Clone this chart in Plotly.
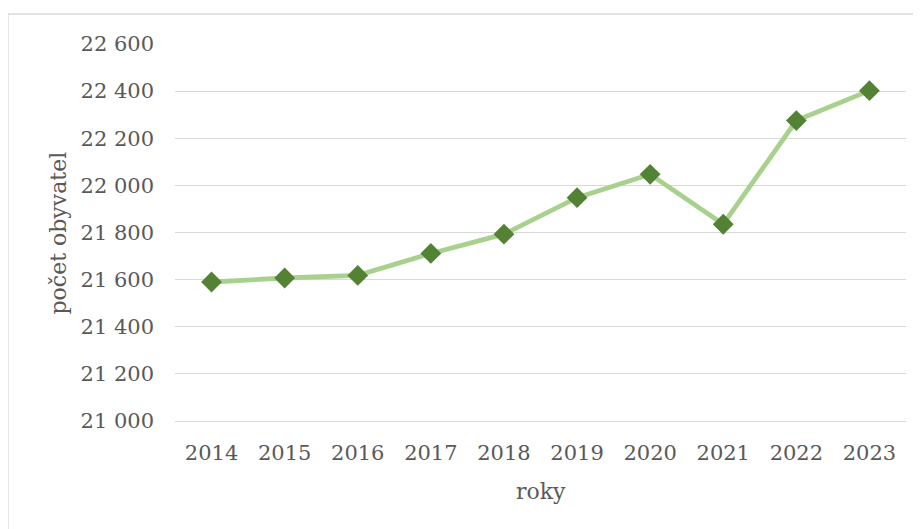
import plotly.graph_objects as go

years = ["2014", "2015", "2016", "2017", "2018", "2019", "2020", "2021", "2022", "2023"]
population = [21590, 21607, 21618, 21711, 21793, 21948, 22047, 21835, 22275, 22402]
y_ticks = [21000, 21200, 21400, 21600, 21800, 22000, 22200, 22400, 22600]
y_title = "počet obyvatel"
x_title = "roky"

FONT = "DejaVu Serif"
TXT = "#595959"
GRID = "#d9d9d9"

# page body has an 8px offset; figure coordinates = screenshot coordinates - 8
fig = go.Figure()
fig.add_trace(go.Scatter(
    x=list(range(len(years))), y=population, mode="lines+markers",
    line=dict(color="#a9d18e", width=4.8),
    marker=dict(symbol="diamond", color="#548235", size=16, line=dict(width=0)),
    showlegend=False, hoverinfo="skip",
))

fig.update_layout(
    width=921, height=529,
    margin=dict(l=167, r=23, t=36, b=116),
    paper_bgcolor="white", plot_bgcolor="white",
    separators=", ",
    font=dict(family=FONT, size=21, color=TXT),
    xaxis=dict(
        range=[-0.5, len(years) - 0.5],
        tickmode="array", tickvals=list(range(len(years))), ticktext=years,
        showgrid=False, zeroline=False,
        showline=True, linecolor=GRID, linewidth=1.3,
        ticks="", ticklabelstandoff=13,
        tickfont=dict(family=FONT, size=21, color=TXT),
    ),
    yaxis=dict(
        range=[y_ticks[0], y_ticks[-1]],
        tickmode="array", tickvals=y_ticks, tickformat=",d",
        showgrid=True, gridcolor=GRID, gridwidth=1.3,
        zeroline=False, showline=False, ticks="",
        ticklabelstandoff=20,
        tickfont=dict(family=FONT, size=21, color=TXT),
    ),
    annotations=[
        dict(text=y_title, xref="paper", yref="paper", x=(58 - 175) / 731, y=0.5,
             textangle=-90, showarrow=False, xanchor="center", yanchor="middle",
             font=dict(family=FONT, size=22, color=TXT)),
        dict(text=x_title, xref="paper", yref="paper", x=0.5, y=(421 - 491) / 377,
             showarrow=False, xanchor="center", yanchor="middle",
             font=dict(family=FONT, size=22, color=TXT)),
    ],
    shapes=[
        dict(type="rect", xref="paper", yref="paper",
             x0=(8 - 175) / 731, x1=1.2, y0=-0.5, y1=(421 - 14) / 377,
             line=dict(color=GRID, width=1.3), fillcolor="rgba(0,0,0,0)", layer="below"),
    ],
)

fig.write_html("out.html")
